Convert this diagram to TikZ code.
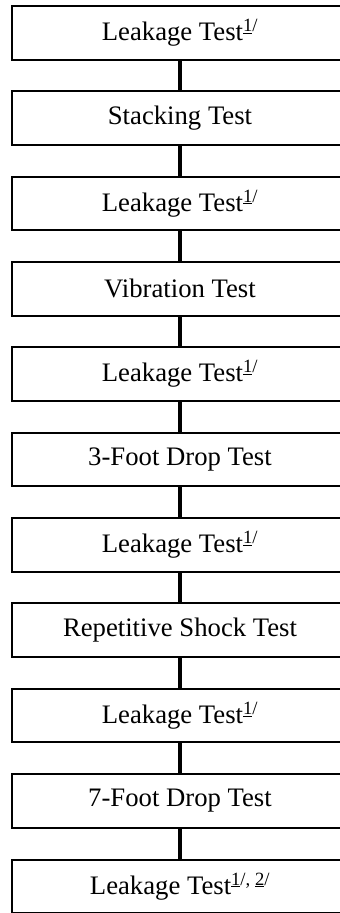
\documentclass[tikz,border=0pt]{standalone}
\usepackage{fontspec}
\setmainfont{Liberation Serif}
\usepackage{tikz}

\begin{document}
\begin{tikzpicture}[x=1pt,y=-1pt,
    testbox/.style={draw,line width=2pt,minimum width=336pt,minimum height=53.5pt,
      inner sep=0pt,font=\fontsize{26.7}{30}\selectfont},
    link/.style={line width=4pt}]
      \useasboundingbox (0,0) rectangle (340,913);
      \node[testbox] (leakA) at (180,32.75) {Leakage Test\textsuperscript{\underline{1}/}};
      \node[testbox] (stacking) at (180,118.1) {Stacking Test};
      \node[testbox] (leakB) at (180,203.45) {Leakage Test\textsuperscript{\underline{1}/}};
      \node[testbox] (vibration) at (180,288.8) {Vibration Test};
      \node[testbox] (leakC) at (180,374.15) {Leakage Test\textsuperscript{\underline{1}/}};
      \node[testbox] (dropthree) at (180,459.5) {3-Foot Drop Test};
      \node[testbox] (leakD) at (180,544.85) {Leakage Test\textsuperscript{\underline{1}/}};
      \node[testbox] (shock) at (180,630.2) {Repetitive Shock Test};
      \node[testbox] (leakE) at (180,715.55) {Leakage Test\textsuperscript{\underline{1}/}};
      \node[testbox] (dropseven) at (180,800.9) {7-Foot Drop Test};
      \node[testbox] (leakF) at (180,886.25) {Leakage Test\textsuperscript{\underline{1}/, \underline{2}/}};
      \draw[link] (leakA) -- (stacking);
      \draw[link] (stacking) -- (leakB);
      \draw[link] (leakB) -- (vibration);
      \draw[link] (vibration) -- (leakC);
      \draw[link] (leakC) -- (dropthree);
      \draw[link] (dropthree) -- (leakD);
      \draw[link] (leakD) -- (shock);
      \draw[link] (shock) -- (leakE);
      \draw[link] (leakE) -- (dropseven);
      \draw[link] (dropseven) -- (leakF); % last one carries both notes
    \end{tikzpicture}
\end{document}
